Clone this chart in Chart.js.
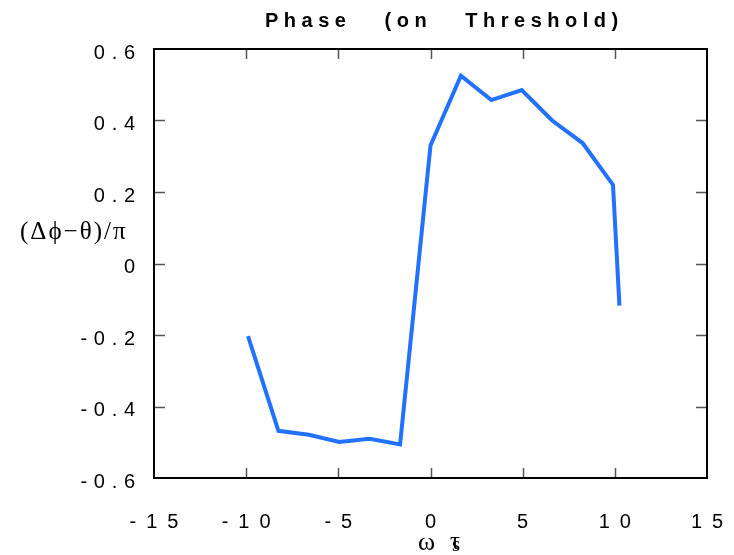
<!DOCTYPE html>
<html>
<head>
<meta charset="utf-8">
<script src="https://cdn.jsdelivr.net/npm/chart.js@4"></script>
<style>
    html, body { margin: 0; padding: 0; background: #fff; }
    #wrap { width: 734px; height: 555px; }
</style>
</head>
<body>
<div id="wrap"><canvas id="phaseChart"></canvas></div>
<script>
// Phase (on Threshold)
const omegaTau = [-9.9, -8.25, -6.6, -4.95, -3.3, -1.65, 0, 1.65, 3.3, 4.95, 6.6, 8.25, 9.9, 10.25];
const phase = [-0.203, -0.468, -0.479, -0.499, -0.490, -0.506, 0.330, 0.525, 0.457, 0.485, 0.40, 0.337, 0.220, -0.118];
const xTicks = [-10, -5, 0, 5, 10];
const yTicks = [-0.4, -0.2, 0, 0.2, 0.4];

const lineColor = '#2271ff';

// spaced out digits like the old plotting package: "- 1 5", "0 . 6"
function spaced(v, gap) {
    const r = Math.round(v * 10) / 10;
    return String(r).split('').join(gap);
}

// frame, inward ticks and axis titles
const framePlugin = {
    id: 'frame',
    afterDraw(chart) {
        const ctx = chart.ctx;
        const a = chart.chartArea;
        const xs = chart.scales.x;
        const ys = chart.scales.y;
        ctx.save();

        ctx.strokeStyle = '#555';
        ctx.lineWidth = 1.5;
        ctx.beginPath();
        xTicks.forEach(function(t) {
            const px = Math.round(xs.getPixelForValue(t)) + 0.5;
            ctx.moveTo(px, a.bottom); ctx.lineTo(px, a.bottom - 10);
            ctx.moveTo(px, a.top); ctx.lineTo(px, a.top + 10);
        });
        yTicks.forEach(function(t) {
            const py = Math.round(ys.getPixelForValue(t)) + 0.5;
            ctx.moveTo(a.left, py); ctx.lineTo(a.left + 11, py);
            ctx.moveTo(a.right, py); ctx.lineTo(a.right - 11, py);
        });
        ctx.stroke();

        ctx.strokeStyle = '#000';
        ctx.lineWidth = 2;
        ctx.strokeRect(a.left, a.top, a.right - a.left, a.bottom - a.top);

        // title
        ctx.fillStyle = '#000';
        ctx.font = 'bold 20px "Liberation Sans", Arial, sans-serif';
        ctx.letterSpacing = '5.5px';
        ctx.textAlign = 'left';
        ctx.textBaseline = 'middle';
        ctx.fillText('Phase   (on   Threshold)', 265, 21);

        // axis titles
        ctx.letterSpacing = '2px';
        ctx.font = '25px "Liberation Serif", "Times New Roman", serif';
        ctx.fillText('(\u0394\u03d5\u2212\u03b8)/\u03c0', 20, 232);
        ctx.letterSpacing = '0px';
        ctx.font = '26px "Liberation Serif", "Times New Roman", serif';
        ctx.fillText('\u03c9', 418, 543);
        ctx.font = '25px "Liberation Serif", "Times New Roman", serif';
        ctx.fillText('\u03c4', 450, 542);
        ctx.font = '21px "Liberation Serif", "Times New Roman", serif';
        ctx.fillText('s', 452, 545);
        ctx.restore();
    }
};

new Chart(document.getElementById('phaseChart'), {
    type: 'scatter',
    data: {
        datasets: [{
            data: omegaTau.map((x, i) => ({ x: x, y: phase[i] })),
            showLine: true,
            borderColor: lineColor,
            borderWidth: 4,
            pointRadius: 0,
            tension: 0,
            fill: false
        }]
    },
    options: {
        responsive: true,
        maintainAspectRatio: false,
        animation: false,
        layout: {
            padding: { top: 49, right: 27, left: 0, bottom: 0 }
        },
        plugins: {
            legend: { display: false },
            tooltip: { enabled: false }
        },
        scales: {
            x: {
                type: 'linear',
                min: -15,
                max: 15,
                grid: { display: false },
                border: { display: false },
                afterFit: function(scale) {
                    scale.height = 77;
                    scale.paddingLeft = 0;
                    scale.paddingRight = 0;
                },
                ticks: {
                    stepSize: 5,
                    padding: 24,
                    color: '#000',
                    font: { family: '"Liberation Sans", Arial, sans-serif', size: 20 },
                    callback: function(value) { return spaced(value, '\u2002'); }
                }
            },
            y: {
                type: 'linear',
                min: -0.6,
                max: 0.6,
                grid: { display: false },
                border: { display: false },
                afterFit: function(scale) { scale.width = 154; },
                ticks: {
                    stepSize: 0.2,
                    padding: 11,
                    labelOffset: 4,
                    color: '#000',
                    font: { family: '"Liberation Sans", Arial, sans-serif', size: 20 },
                    callback: function(value) { return spaced(value, '\u2004'); }
                }
            }
        }
    },
    plugins: [framePlugin]
});
</script>
</body>
</html>
